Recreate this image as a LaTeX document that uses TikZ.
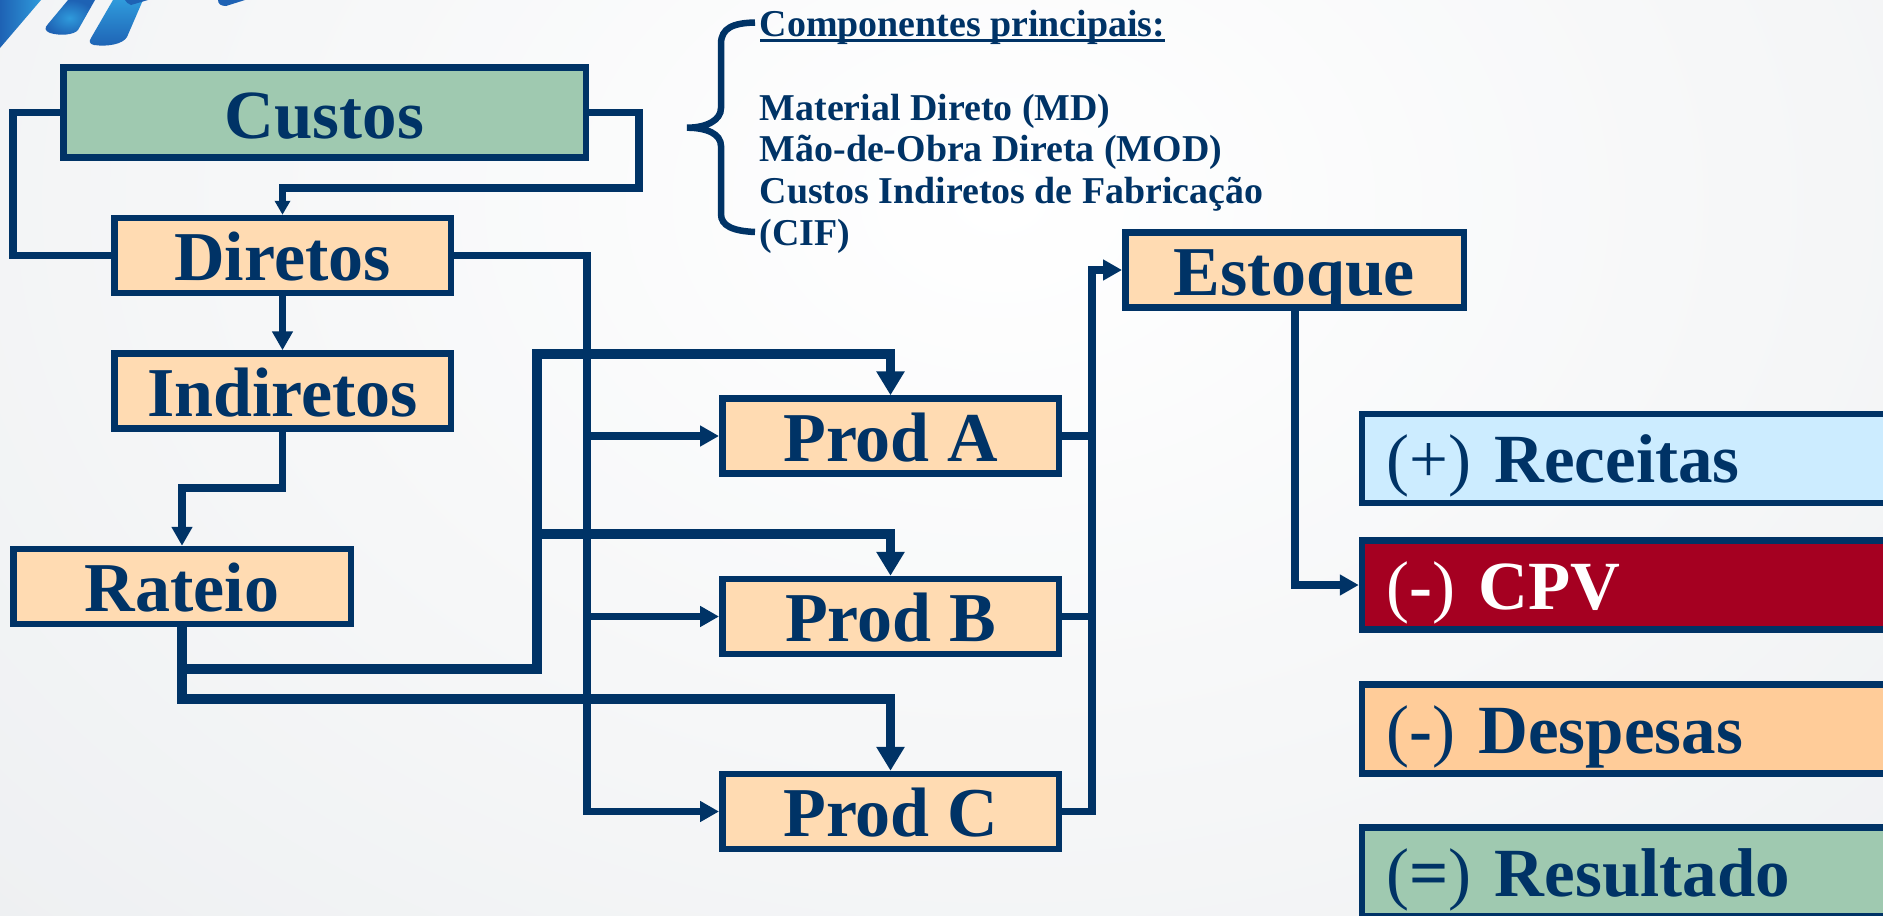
\documentclass[tikz,border=0pt]{standalone}
\usepackage{fontspec}
\setmainfont{Liberation Serif}
\usetikzlibrary{arrows.meta,calc}
\definecolor{navy}{HTML}{003366}
\definecolor{peach}{HTML}{FFDBB2}
\definecolor{sage}{HTML}{9FC9B0}
\definecolor{skyb}{HTML}{CCECFF}
\definecolor{wine}{HTML}{A50021}
\definecolor{apricot}{HTML}{FFCC99}
\definecolor{bgedge}{HTML}{EDEFF1}
\definecolor{logoA}{HTML}{1E62B4}
\definecolor{logoB}{HTML}{2F9ADB}
\newcommand{\bigtxt}{\fontsize{69}{69}\selectfont\bfseries}
\newcommand{\boxtxt}{\fontsize{70}{70}\selectfont\bfseries}
\newcommand{\smalltxt}{\fontsize{37.9}{41.8}\selectfont\bfseries}
\newcommand{\rg}[1]{{\mdseries #1}}
\tikzset{
  x=1pt,y=-1pt,
  boxbase/.style={draw=navy,line width=6.5pt,inner sep=0pt,text=navy,font=\bigtxt},
  cbox/.style={boxbase,font=\boxtxt,fill=peach,minimum width=#1,text height=62.5pt,text depth=12.5pt},
  cbox/.default=336.5pt,
  rbox/.style={boxbase,fill=#1,minimum width=580pt,inner xsep=24.5pt,text width=531pt,align=left,text height=68.5pt,text depth=20.5pt},
  conn/.style={draw=navy,line width=7.5pt},
  heavy/.style={draw=navy,line width=9.5pt},
  tipS/.style={-{Triangle[length=14pt,width=15pt]}},
  tipM/.style={-{Triangle[length=19pt,width=20pt]}},
  tipL/.style={-{Triangle[length=24pt,width=27pt]}},
}
\begin{document}
\begin{tikzpicture}
\useasboundingbox (0,0) rectangle (1883,916);
\clip (0,0) rectangle (1883,916);
\shade[inner color=white,outer color=bgedge] (-500,-900) rectangle (2500,1300);
% logo
\shade[left color=logoA,right color=logoB] (0,0) -- (41,0) -- (0,48) -- cycle;
\shade[inner color=logoB,outer color=logoA] (68,0) -- (95,0) -- (78,30) .. controls (74,35) and (60,36) .. (50,33) .. controls (45,31) and (44,28) .. (48,24) -- cycle;
\shade[top color=logoB,bottom color=logoA] (113,0) -- (143,0) -- (127,37) .. controls (123,44) and (108,47) .. (94,45) .. controls (89,44) and (89,41) .. (91,38) -- cycle;
\fill[logoA] (125,0) -- (148,0) -- (131,5) .. controls (128,4) and (126,2) .. (125,0) -- cycle;
\fill[logoA] (218,0) -- (245,0) -- (226,6) .. controls (221,6) and (218,4) .. (218,0) -- cycle;
% boxes
\node[boxbase,fill=sage,minimum width=522.5pt,text height=70.5pt,text depth=19.5pt] (cus) at (324.5,112.5) {Custos};
\node[cbox] (dir) at (282.5,255.5) {Diretos};
\node[cbox] (ind) at (282.5,391) {Indiretos};
\node[cbox=337.5pt] (rat) at (182,586.5) {Rateio};
\node[cbox] (pa) at (890.5,436) {Prod A};
\node[cbox] (pb) at (890.5,616.5) {Prod B};
\node[cbox] (pc) at (890.5,811.5) {Prod C};
\node[cbox=338.5pt] (est) at (1294.5,270) {Estoque};
\node[rbox=skyb] (rec) at (1652,458.5) {\rg{(+)} Receitas};
\node[rbox=wine,text=white] (cpv) at (1652,585) {\rg{(}-\rg{)} CPV};
\node[rbox=apricot] (des) at (1652,729) {\rg{(}-\rg{)} Despesas};
\node[rbox=sage] (res) at (1652,872) {\rg{(}=\rg{)} Resultado};
% text block and brace
\node[anchor=north west,inner sep=0pt,text=navy,font=\smalltxt,align=left] (comp) at (759.5,10)
  {Componentes principais:\\
   \mbox{}\\
   Material Direto (MD)\\
   Mão-de-Obra Direta (MOD)\\
   Custos Indiretos de Fabricação\\
   (CIF)};
\fill[navy] (759.5,39) rectangle (1165,41.7);
\draw[conn,line width=6.5pt] (755,22.5) .. controls (733,23) and (721,28) .. (721,44)
  -- (721,108) .. controls (721,120) and (707,127.7) .. (687,127.7)
  .. controls (707,127.7) and (721,134) .. (721,146)
  -- (721,214) .. controls (721,226) and (733,231) .. (755,232);
% connectors
\coordinate (lft) at (13,113);
\coordinate (rgt) at (639,188);
\coordinate (dbus) at (587,255.5);
\coordinate (mid) at (182,488);
\coordinate (h1) at (182,669);
\coordinate (h2) at (182,699);
\coordinate (vb) at (537,354);
\coordinate (vb2) at (537,534);
\coordinate (ebus) at (1092,270);
\coordinate (sbus) at (1295,585);
\draw[conn] (cus.west) -- (cus.west -| lft) |- (dir.west);
\draw[conn,tipS] (cus.east) -| (rgt) -| (dir.north);
\draw[conn,tipM] (dir.south) -- (ind.north);
\draw[conn,tipM] (ind.south) |- (mid) -- (rat.north);
\draw[conn,tipM] (dir.east) -- (dbus) |- (pc.west);
\draw[conn,tipM] (dbus |- pa.west) -- (pa.west);
\draw[conn,tipM] (dbus |- pb.west) -- (pb.west);
\draw[heavy,tipL] (rat.south) -- (h2) -| (pc.north);
\draw[heavy,tipL] (h1) -| (vb) -| (pa.north);
\draw[heavy,tipL] (vb2) -| (pb.north);
\draw[conn] (pa.east) -- (pa.east -| ebus);
\draw[conn] (pb.east) -- (pb.east -| ebus);
\draw[conn,tipM] (pc.east) -| (ebus) -- (est.west);
\draw[conn,tipM] (est.south -| sbus) -- (sbus) -- (cpv.west);
\end{tikzpicture}
\end{document}
